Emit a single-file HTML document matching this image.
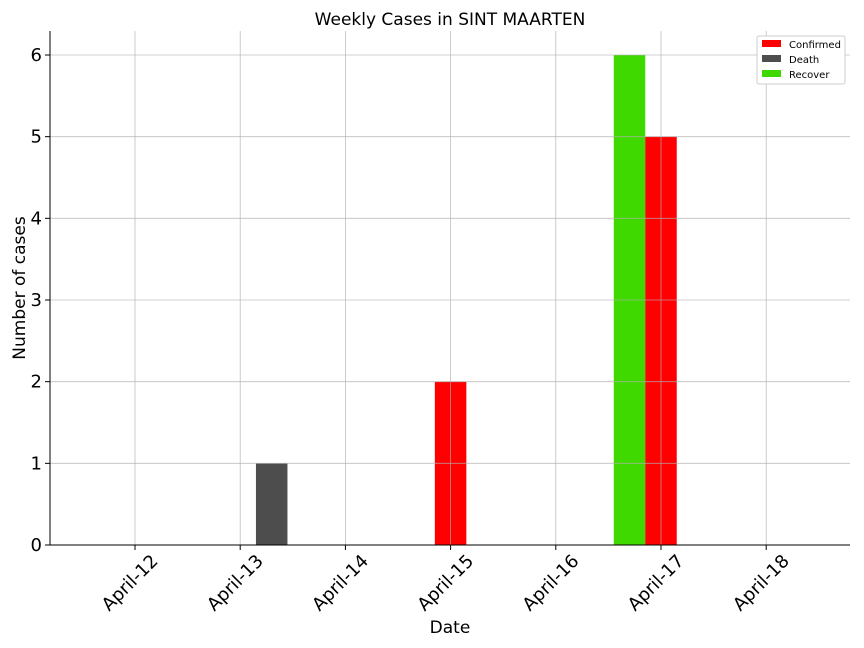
<!DOCTYPE html>
<html><head><meta charset="utf-8"><style>
body{margin:0;background:#fff;}
svg{display:block;font-family:"DejaVu Sans","Liberation Sans",sans-serif;}
</style></head><body>
<svg id="chart" width="864" height="648">
<rect width="864" height="648" fill="#fff"/>
<text x="450" y="25" text-anchor="middle" font-size="17">Weekly Cases in SINT MAARTEN</text>
<g id="bars"></g>
<g id="grid"></g>
<g id="axes"></g>
<text x="450" y="633" text-anchor="middle" font-size="17">Date</text>
<text transform="translate(25,288) rotate(-90)" text-anchor="middle" font-size="17">Number of cases</text>
<g>
<rect x="757" y="36" width="88" height="48" fill="#fff" stroke="#ccc" rx="2"/>
<rect x="762" y="40" width="19" height="7" fill="#ff0000"/>
<text x="789" y="48" font-size="10">Confirmed</text>
<rect x="762" y="55" width="19" height="7" fill="#4d4d4d"/>
<text x="789" y="63" font-size="10">Death</text>
<rect x="762" y="70" width="19" height="7" fill="#3fd900"/>
<text x="789" y="78" font-size="10">Recover</text>
</g>
</svg>
<script>
const categories=["April-12","April-13","April-14","April-15","April-16","April-17","April-18"];
const confirmed=[0,0,0,2,0,5,0];
const death=[0,1,0,0,0,0,0];
const recover=[0,0,0,0,0,6,0];
const yTicks=[0,1,2,3,4,5,6];
const NS="http://www.w3.org/2000/svg";
const L=50,R=850,T=31,B=545;
const step=105.2,x0=135;
function xs(i){return x0+i*step;}
function ys(v){return B-v*(B-55)/6;}
const bw=31.5;
function mk(tag,attrs,parent){const e=document.createElementNS(NS,tag);for(const k in attrs)e.setAttribute(k,attrs[k]);parent.appendChild(e);return e;}
const bars=document.getElementById('bars'),grid=document.getElementById('grid'),axes=document.getElementById('axes');
const series=[[recover,-1,"#3fd900","recover"],[confirmed,0,"#ff0000","confirmed"],[death,1,"#4d4d4d","death"]];
series.forEach(([vals,off,col,nm])=>{vals.forEach((v,i)=>{if(v<=0)return;
const r=mk('rect',{x:xs(i)+off*bw-bw/2,y:ys(v),width:bw,height:ys(0)-ys(v),fill:col},bars);

});});
yTicks.forEach(t=>{const y=ys(t);
const g=mk('line',{x1:L,x2:R,y1:y,y2:y,stroke:"#b0b0b0","stroke-width":0.8,opacity:0.8},grid);

mk('line',{x1:L-5,x2:L,y1:y,y2:y,stroke:"#000"},axes);
const tx=mk('text',{x:L-8,y:y+6,"text-anchor":"end","font-size":18},axes);tx.textContent=t;
});
categories.forEach((c,i)=>{const x=xs(i);
const g=mk('line',{x1:x,x2:x,y1:T,y2:B,stroke:"#b0b0b0","stroke-width":0.8,opacity:0.8},grid);

mk('line',{x1:x,x2:x,y1:B,y2:B+5,stroke:"#000"},axes);
const tx=mk('text',{transform:`translate(${x+24},${B+17}) rotate(-45)`,"text-anchor":"end","font-size":18},axes);tx.textContent=c;
});
const ax=mk('line',{x1:L,x2:L,y1:T,y2:B,stroke:"#000"},axes);
const bx=mk('line',{x1:L,x2:R,y1:B,y2:B,stroke:"#000"},axes);
</script>
</body></html>
